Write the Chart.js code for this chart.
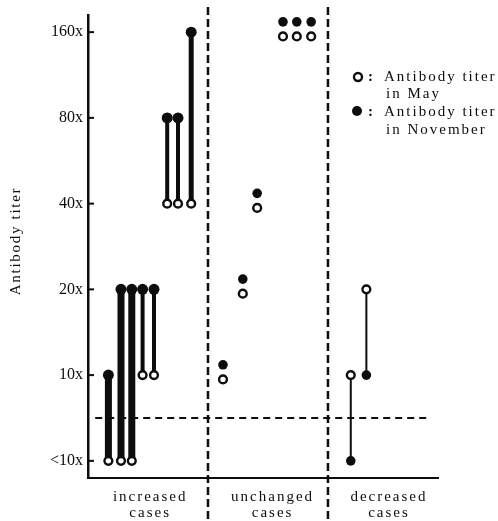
<!DOCTYPE html>
<html>
<head>
<meta charset="utf-8">
<script src="https://cdn.jsdelivr.net/npm/chart.js@4/dist/chart.umd.min.js"></script>
<style>
  body { margin: 0; background: #fff; }
  canvas { display: block; }
</style>
</head>
<body>
<canvas id="titerChart" width="498" height="521"></canvas>
<script>
// titer steps on the 2-fold dilution scale, 0 = below 10x
const titerLabels = ['<10x', '10x', '20x', '40x', '80x', '160x'];
const groupNames = [['increased', 'cases'], ['unchanged', 'cases'], ['decreased', 'cases']];
const groupCenters = [5.1, 15.3, 25];
const groupBounds = [10, 20];
const cutoffLevel = 0.5;

// one entry per patient
const caseX    = [1.7, 2.75, 3.65, 4.55, 5.5, 6.6, 7.5, 8.6, 11.25, 12.9, 14.1, 16.25, 17.4, 18.6, 21.9, 23.2];
const mayTiter = [0, 0, 0, 1, 1, 3, 3, 3, 1, 2, 3, 5, 5, 5, 1, 2];
const novTiter = [1, 2, 2, 2, 2, 4, 4, 5, 1, 2, 3, 5, 5, 5, 0, 1];

// drawing style per patient
const stemWidth = [7, 7, 7, 4, 4, 4, 4, 5, 0, 0, 0, 0, 0, 0, 2, 2];
const ink = '#0d0d0d';
const serif = '"Liberation Serif", "DejaVu Serif", serif';

// unchanged pairs are stacked: November dot above, May circle below
const isTie = i => mayTiter[i] === novTiter[i];
const mayPoints = caseX.map((x, i) => ({ x: x, y: mayTiter[i] - (isTie(i) ? 0.05 : 0) }));
const novPoints = caseX.map((x, i) => ({ x: x, y: novTiter[i] + (isTie(i) ? 0.12 : 0) }));

const stems = caseX
  .map((x, i) => ({
    type: 'scatter',
    showLine: true,
    data: [mayPoints[i], novPoints[i]],
    borderColor: ink,
    borderWidth: stemWidth[i],
    borderCapStyle: 'butt',
    pointRadius: 0,
    order: 2
  }))
  .filter((d, i) => !isTie(i));

function line(ctx, x1, y1, x2, y2) {
  ctx.beginPath();
  ctx.moveTo(x1, y1);
  ctx.lineTo(x2, y2);
  ctx.stroke();
}

const paperPlugin = {
  id: 'paper',
  beforeDraw(chart) {
    const ctx = chart.ctx;
    ctx.save();
    ctx.fillStyle = '#fff';
    ctx.fillRect(0, 0, chart.width, chart.height);
    ctx.restore();
  },
  beforeDatasetsDraw(chart) {
    const { ctx, chartArea, scales: { x, y } } = chart;
    ctx.save();
    ctx.strokeStyle = ink;

    // group separators run through the category labels
    ctx.lineWidth = 2.5;
    ctx.setLineDash([8, 4]);
    groupBounds.forEach(b => {
      const px = x.getPixelForValue(b);
      line(ctx, px, 7, px, chart.height);
    });

    // detection cutoff between <10x and 10x
    ctx.lineWidth = 2;
    ctx.setLineDash([7, 5]);
    const py = y.getPixelForValue(cutoffLevel);
    line(ctx, x.getPixelForValue(0.6), py, x.getPixelForValue(28.4), py);

    // short inner tick marks on the titer axis
    ctx.setLineDash([]);
    ctx.lineWidth = 2;
    titerLabels.forEach((_, i) => {
      const p = y.getPixelForValue(i);
      line(ctx, chartArea.left, p, chartArea.left + 6, p);
    });
    ctx.restore();
  },
  afterDraw(chart) {
    const { ctx, scales: { x } } = chart;
    ctx.save();
    ctx.fillStyle = ink;
    ctx.strokeStyle = ink;

    // group names under the x axis
    ctx.font = '15px ' + serif;
    ctx.letterSpacing = '2px';
    ctx.textAlign = 'center';
    ctx.textBaseline = 'alphabetic';
    groupNames.forEach((rows, g) => {
      const px = x.getPixelForValue(groupCenters[g]);
      ctx.fillText(rows[0], px + 1, 501);
      ctx.fillText(rows[1], px + 1, 517);
    });

    // axis title
    ctx.save();
    ctx.translate(16, 241);
    ctx.rotate(-Math.PI / 2);
    ctx.letterSpacing = '1.7px';
    ctx.textBaseline = 'middle';
    ctx.fillText('Antibody titer', 0, 0);
    ctx.restore();

    // key
    ctx.letterSpacing = '2px';
    ctx.textAlign = 'left';
    ctx.lineWidth = 2.4;
    ctx.beginPath();
    ctx.arc(358, 77, 4, 0, Math.PI * 2);
    ctx.fillStyle = '#fff';
    ctx.fill();
    ctx.stroke();
    ctx.beginPath();
    ctx.arc(357, 111, 5, 0, Math.PI * 2);
    ctx.fillStyle = ink;
    ctx.fill();
    ctx.font = 'bold 15px ' + serif;
    ctx.fillText(':', 368, 81);
    ctx.fillText(':', 368, 116);
    ctx.font = '15px ' + serif;
    ctx.fillText('Antibody titer', 384, 81);
    ctx.fillText('in May', 386, 98);
    ctx.fillText('Antibody titer', 384, 116);
    ctx.fillText('in November', 386, 134);
    ctx.restore();
  }
};

new Chart(document.getElementById('titerChart'), {
  type: 'scatter',
  data: {
    datasets: [
      {
        label: 'Antibody titer in November',
        data: novPoints,
        pointStyle: 'circle',
        pointRadius: ctx => (stemWidth[ctx.dataIndex] >= 4 ? 5.5 : 4.8),
        pointBackgroundColor: ink,
        pointBorderColor: ink,
        pointBorderWidth: 0,
        order: 0
      },
      {
        label: 'Antibody titer in May',
        data: mayPoints,
        pointStyle: 'circle',
        pointRadius: 3.9,
        pointBackgroundColor: '#fff',
        pointBorderColor: ink,
        pointBorderWidth: 2.4,
        order: 1
      },
      ...stems
    ]
  },
  options: {
    responsive: false,
    animation: false,
    devicePixelRatio: 1,
    layout: { padding: { left: 0, right: 60, top: 15, bottom: 0 } },
    clip: false,
    plugins: {
      legend: { display: false },
      tooltip: { enabled: false }
    },
    scales: {
      x: {
        type: 'linear',
        min: 0,
        max: 29.17,
        grid: { display: false },
        border: { display: true, color: ink, width: 2 },
        ticks: { display: false },
        afterFit(scale) { scale.height = 43; }
      },
      y: {
        type: 'linear',
        min: -0.2,
        max: 5.2,
        grid: { display: false, drawTicks: false },
        border: { display: true, color: ink, width: 2.5 },
        afterBuildTicks(scale) {
          scale.ticks = titerLabels.map((_, i) => ({ value: i }));
        },
        ticks: {
          color: ink,
          padding: 5,
          font: { family: serif, size: 16 },
          callback: value => titerLabels[value] ?? ''
        },
        afterFit(scale) { scale.width = 88; }
      }
    }
  },
  plugins: [paperPlugin]
});
</script>
</body>
</html>
